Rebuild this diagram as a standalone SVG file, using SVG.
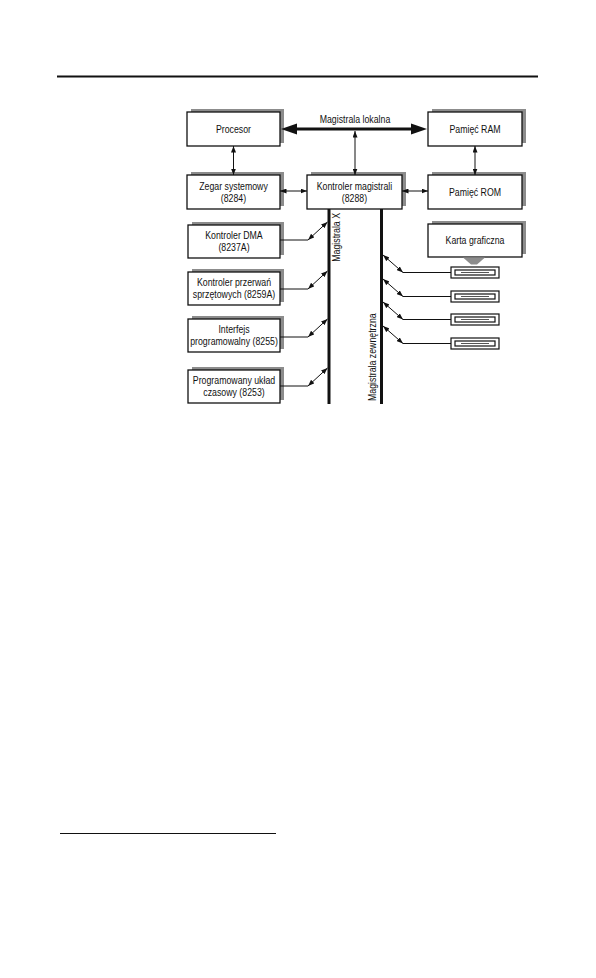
<svg xmlns="http://www.w3.org/2000/svg" width="596" height="978" viewBox="0 0 596 978">
<defs>
<marker id="ah" markerUnits="userSpaceOnUse" markerWidth="7" markerHeight="5" refX="6.5" refY="2.5" orient="auto-start-reverse">
<path d="M0,0 L6.5,2.5 L0,5 z" fill="#111"/>
</marker>
<style>
.sh{fill:#8c8c8c}
.bx{fill:#fff;stroke:#111;stroke-width:1.3}
.t{font-family:"Liberation Sans",Arial,sans-serif;font-size:10.2px;fill:#111;text-anchor:middle}
.c{stroke:#111;stroke-width:1;fill:none}
.d{stroke:#111;stroke-width:1;fill:none;marker-start:url(#ah);marker-end:url(#ah)}
.bus{stroke:#111;stroke-width:3}
.slot{fill:#fff;stroke:#111;stroke-width:1.2}
</style>
</defs>
<rect width="596" height="978" fill="#fff"/>
<line x1="57" y1="76.5" x2="538" y2="76.5" stroke="#111" stroke-width="2"/>
<line x1="60" y1="833.5" x2="276" y2="833.5" stroke="#111" stroke-width="1"/>

<g id="procesor"><rect class="sh" x="191" y="109" width="93" height="34"/><rect class="bx" x="187" y="112" width="93" height="34"/><text class="t" transform="translate(233.5,132.5) scale(0.86,1)">Procesor</text></g>
<g id="ram"><rect class="sh" x="432" y="109" width="94" height="34"/><rect class="bx" x="428" y="112" width="94" height="34"/><text class="t" transform="translate(475,132.5) scale(0.86,1)">Pamięć RAM</text></g>
<g id="zegar"><rect class="sh" x="191" y="172" width="93" height="34"/><rect class="bx" x="187" y="175" width="93" height="34"/><text class="t" transform="translate(233.5,190) scale(0.86,1)">Zegar systemowy</text><text class="t" transform="translate(233.5,201.5) scale(0.86,1)">(8284)</text></g>
<g id="kontroler"><rect class="sh" x="311" y="172" width="95" height="34"/><rect class="bx" x="307" y="175" width="95" height="34"/><text class="t" transform="translate(354.5,190) scale(0.86,1)">Kontroler magistrali</text><text class="t" transform="translate(354.5,201.5) scale(0.86,1)">(8288)</text></g>
<g id="rom"><rect class="sh" x="432" y="172" width="94" height="34"/><rect class="bx" x="428" y="175" width="94" height="34"/><text class="t" transform="translate(475,195.5) scale(0.86,1)">Pamięć ROM</text></g>
<g id="dma"><rect class="sh" x="192" y="222" width="92" height="33"/><rect class="bx" x="188" y="225" width="92" height="33"/><text class="t" transform="translate(234,239) scale(0.86,1)">Kontroler DMA</text><text class="t" transform="translate(234,250.5) scale(0.86,1)">(8237A)</text></g>
<g id="przerwan"><rect class="sh" x="192" y="269" width="92" height="33"/><rect class="bx" x="188" y="272" width="92" height="33"/><text class="t" transform="translate(234,286) scale(0.86,1)">Kontroler przerwań</text><text class="t" transform="translate(234,297.5) scale(0.86,1)">sprzętowych (8259A)</text></g>
<g id="interfejs"><rect class="sh" x="192" y="316" width="92" height="33"/><rect class="bx" x="188" y="319" width="92" height="33"/><text class="t" transform="translate(234,333) scale(0.86,1)">Interfejs</text><text class="t" transform="translate(234,344.5) scale(0.86,1)">programowalny (8255)</text></g>
<g id="uklad"><rect class="sh" x="192" y="367" width="92" height="33"/><rect class="bx" x="188" y="370" width="92" height="33"/><text class="t" transform="translate(234,384) scale(0.86,1)">Programowany układ</text><text class="t" transform="translate(234,395.5) scale(0.86,1)">czasowy (8253)</text></g>
<g id="karta"><rect class="sh" x="432" y="221" width="94" height="33"/><rect class="bx" x="428" y="224" width="94" height="33"/><text class="t" transform="translate(475,244) scale(0.86,1)">Karta graficzna</text><polygon points="463,257.5 485,257.5 477,264.5 471,264.5" fill="#8c8c8c"/></g>
<g id="slots">
<g id="slot1"><rect class="slot" x="451" y="267" width="48" height="11"/><rect class="slot" x="455" y="270" width="40" height="5"/><line x1="461" y1="272.5" x2="489" y2="272.5" stroke="#555" stroke-width="1"/></g>
<g id="slot2"><rect class="slot" x="451" y="291" width="48" height="11"/><rect class="slot" x="455" y="294" width="40" height="5"/><line x1="461" y1="296.5" x2="489" y2="296.5" stroke="#555" stroke-width="1"/></g>
<g id="slot3"><rect class="slot" x="451" y="314" width="48" height="11"/><rect class="slot" x="455" y="317" width="40" height="5"/><line x1="461" y1="319.5" x2="489" y2="319.5" stroke="#555" stroke-width="1"/></g>
<g id="slot4"><rect class="slot" x="451" y="338" width="48" height="11"/><rect class="slot" x="455" y="341" width="40" height="5"/><line x1="461" y1="343.5" x2="489" y2="343.5" stroke="#555" stroke-width="1"/></g>
</g>

<g id="connectors">
<line x1="294" y1="129" x2="414" y2="129" stroke="#111" stroke-width="3"/>
<polygon points="281,129 297,123.5 297,134.5" fill="#111"/>
<polygon points="427,129 411,123.5 411,134.5" fill="#111"/>
<text class="t" transform="translate(355,123) scale(0.86,1)">Magistrala lokalna</text>
<line class="d" x1="355" y1="131" x2="355" y2="175"/>
<line class="d" x1="233.5" y1="146" x2="233.5" y2="175"/>
<line class="d" x1="475" y1="146" x2="475" y2="175"/>
<line class="d" x1="280" y1="191" x2="307" y2="191"/>
<line class="d" x1="402" y1="191" x2="428" y2="191"/>

<line class="bus" x1="329" y1="209" x2="329" y2="404"/>
<line class="bus" x1="381.5" y1="209" x2="381.5" y2="404"/>
<text class="t" style="text-anchor:end" transform="translate(340,213) rotate(-90) scale(0.86,1)">Magistrala X</text>
<text class="t" style="text-anchor:start" transform="translate(376,401) rotate(-90) scale(0.86,1)">Magistrala zewnętrzna</text>

<line class="c" x1="280" y1="240" x2="308" y2="240"/>
<line class="d" x1="308" y1="240" x2="327.5" y2="222"/>
<line class="c" x1="280" y1="289" x2="308" y2="289"/>
<line class="d" x1="308" y1="289" x2="327.5" y2="271"/>
<line class="c" x1="280" y1="337" x2="308" y2="337"/>
<line class="d" x1="308" y1="337" x2="327.5" y2="319"/>
<line class="c" x1="280" y1="386" x2="308" y2="386"/>
<line class="d" x1="308" y1="386" x2="327.5" y2="368"/>

<line class="c" x1="451" y1="272.5" x2="403" y2="272.5"/>
<line class="d" x1="403" y1="272.5" x2="383" y2="255"/>
<line class="c" x1="451" y1="296.5" x2="403" y2="296.5"/>
<line class="d" x1="403" y1="296.5" x2="383" y2="279"/>
<line class="c" x1="451" y1="319.5" x2="403" y2="319.5"/>
<line class="d" x1="403" y1="319.5" x2="383" y2="302"/>
<line class="c" x1="451" y1="343.5" x2="403" y2="343.5"/>
<line class="d" x1="403" y1="343.5" x2="383" y2="326"/>
</g>
</svg>
